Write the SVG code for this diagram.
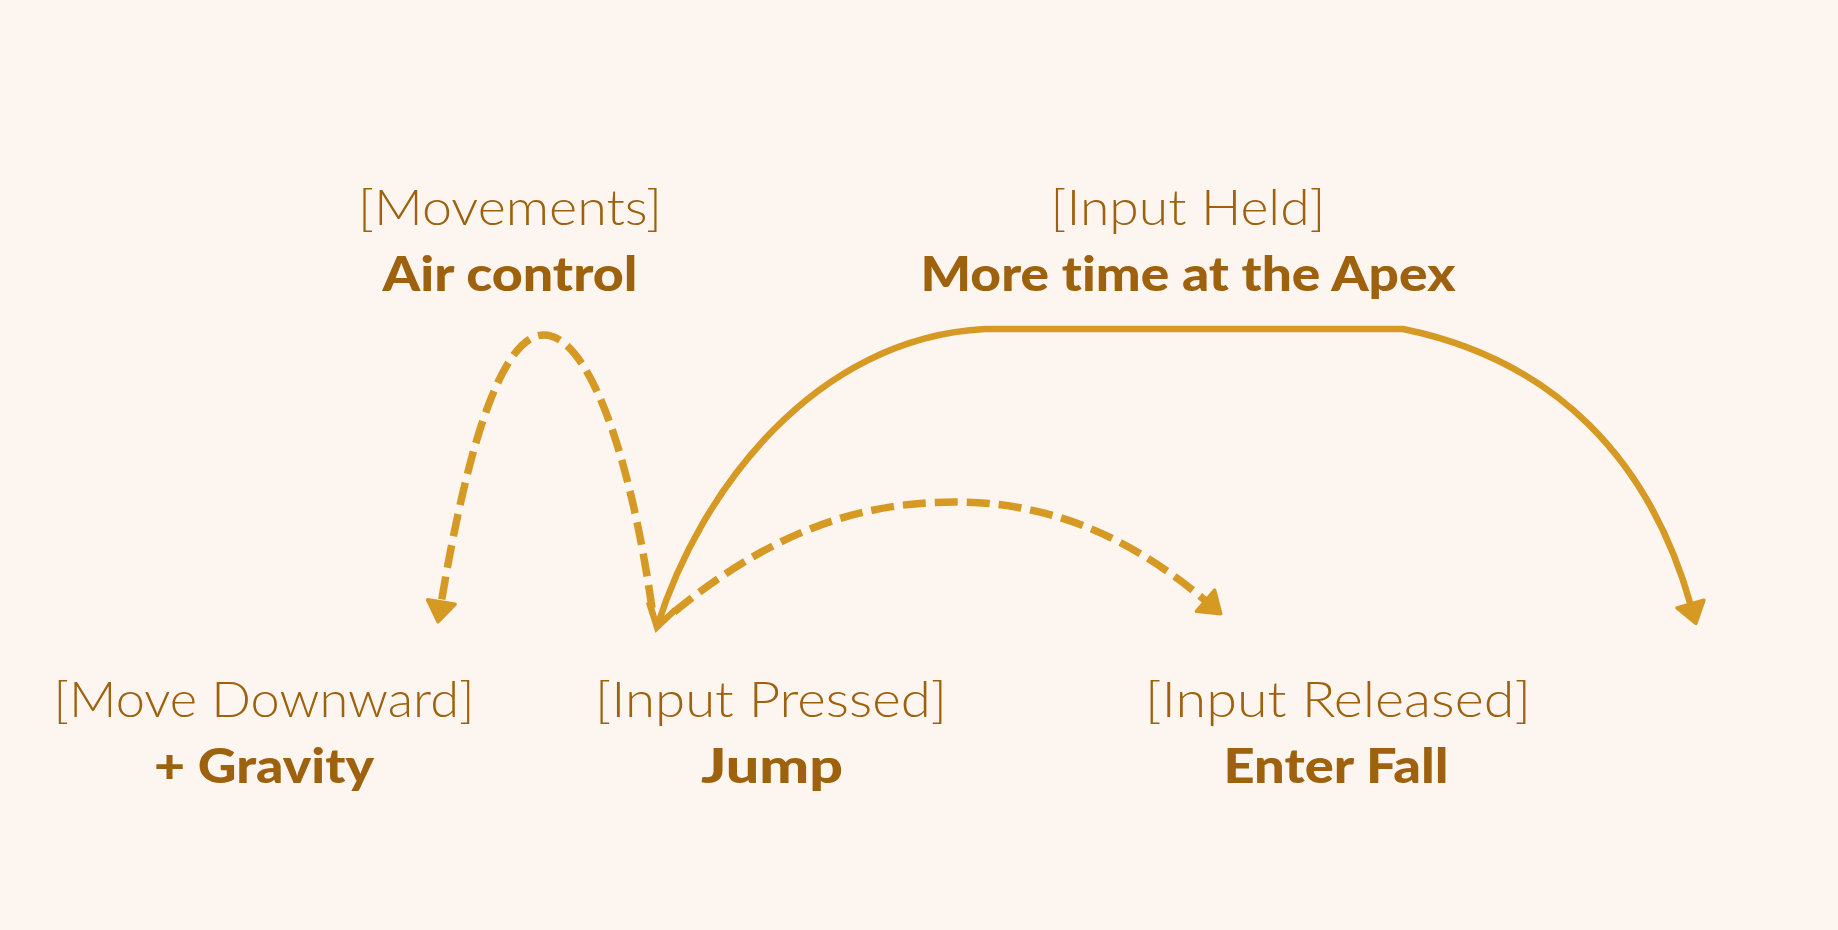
<svg xmlns="http://www.w3.org/2000/svg" width="1838" height="930" viewBox="0 0 1838 930">
  <style>
    .lbl { font-family: Lato, "Open Sans", "Liberation Sans", sans-serif; font-size: 48px; fill: #9E610D; text-anchor: middle; font-variant-ligatures: none; font-feature-settings: "liga" 0, "clig" 0; }
    .light { font-weight: 300; font-size: 50px; }
    .bold { font-weight: 900; }
    .line { fill: none; stroke: #D69A24; stroke-width: 6.5; }
    .dash { stroke-width: 7.5; stroke-dasharray: 23 9; }
  </style>
  <defs>
    <marker id="tri" viewBox="-3 -18 27 36" refX="2" refY="0" markerWidth="27" markerHeight="36" markerUnits="userSpaceOnUse" orient="auto">
      <path d="M 0 -14 L 20 0 L 0 14 Z" fill="#D69A24" stroke="#D69A24" stroke-width="3.5" stroke-linejoin="round" stroke-dasharray="none"/>
    </marker>
  </defs>
  <rect x="0" y="0" width="1838" height="930" fill="#FDF6F0"/>

  <g id="connectors">
    <path id="jump-to-movedown" class="line dash" d="M 652 608 C 628 440, 585 335, 544 335 C 505 335, 470 430, 441 604" marker-end="url(#tri)"/>
    <path id="jump-to-enterfall" class="line dash" d="M 674 612 C 780 525, 870 502, 955 502 C 1060 502, 1140 545, 1207 602" marker-end="url(#tri)"/>
    <path id="jump-to-apex" class="line" d="M 657 627 C 700 490, 815 338, 985 329 L 1403 329 C 1555 360, 1650 460, 1691 606" marker-end="url(#tri)"/>
    <path id="jump-open-head" class="line" d="M 649 602 L 657 627 L 675 610" stroke-linejoin="miter"/>
  </g>

  <g id="node-movements">
    <text class="lbl light" x="510" y="225" textLength="304" lengthAdjust="spacingAndGlyphs">[Movements]</text>
    <text class="lbl bold" x="510" y="291" textLength="255" lengthAdjust="spacingAndGlyphs">Air control</text>
  </g>
  <g id="node-input-held">
    <text class="lbl light" x="1188" y="225" textLength="275" lengthAdjust="spacingAndGlyphs">[Input Held]</text>
    <text class="lbl bold" x="1188" y="291" textLength="535" lengthAdjust="spacingAndGlyphs">More time at the Apex</text>
  </g>
  <g id="node-move-downward">
    <text class="lbl light" x="264" y="717" textLength="421" lengthAdjust="spacingAndGlyphs">[Move Downward]</text>
    <text class="lbl bold" x="264" y="783" textLength="220" lengthAdjust="spacingAndGlyphs">+ Gravity</text>
  </g>
  <g id="node-input-pressed">
    <text class="lbl light" x="771" y="717" textLength="352" lengthAdjust="spacingAndGlyphs">[Input Pressed]</text>
    <text class="lbl bold" x="772" y="783" textLength="142" lengthAdjust="spacingAndGlyphs">Jump</text>
  </g>
  <g id="node-input-released">
    <text class="lbl light" x="1338" y="717" textLength="386" lengthAdjust="spacingAndGlyphs">[Input Released]</text>
    <text class="lbl bold" x="1336" y="783" textLength="225" lengthAdjust="spacingAndGlyphs">Enter Fall</text>
  </g>
</svg>
